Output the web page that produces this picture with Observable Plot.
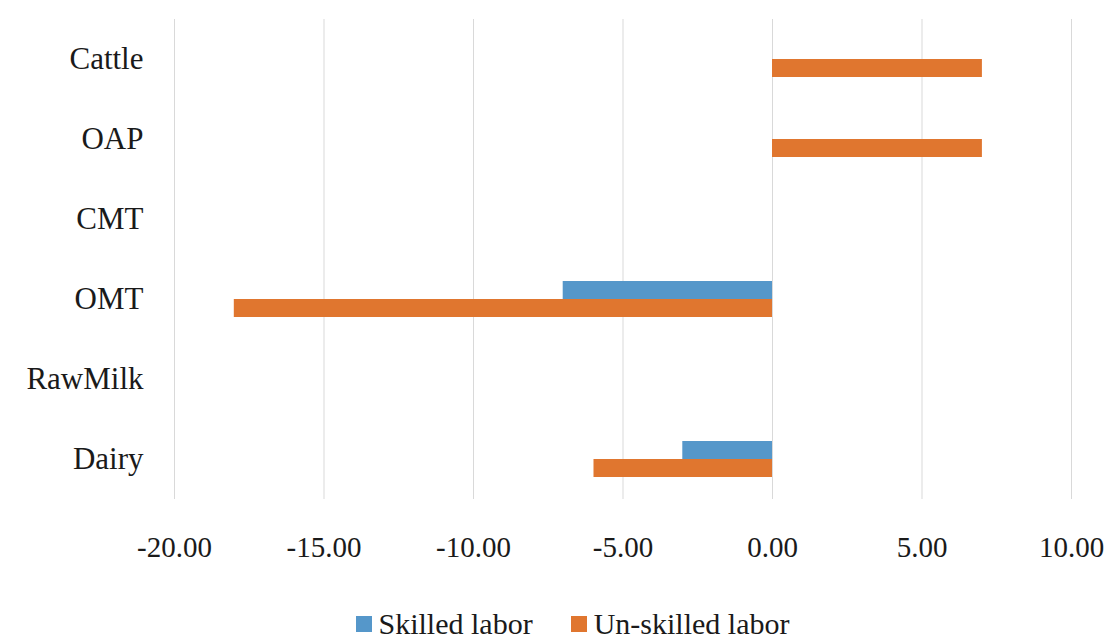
<!DOCTYPE html>
<html>
<head>
<meta charset="utf-8">
<script src="https://cdn.jsdelivr.net/npm/d3@7"></script>
<script src="https://cdn.jsdelivr.net/npm/@observablehq/plot@0.6"></script>
<style>
  html, body { margin: 0; padding: 0; background: #fff; }
  #chart svg { display: block; }
  #chart svg, #chart svg text { font-family: "Liberation Serif", Times, "DejaVu Serif", serif !important; }
  .legend { display: flex; justify-content: center; align-items: center; padding-left: 34px;
    font-family: "Liberation Serif", Times, "DejaVu Serif", serif; font-size: 30px; color: #1a1a1a; height: 34px; line-height: 34px; }
  .legend .item { display: flex; align-items: center; margin: 0 19px; }
  .legend .sw { width: 16px; height: 16px; margin-right: 7px; display: inline-block; }
</style>
</head>
<body>
<div id="chart"></div>
<div class="legend" id="legend"></div>
<script>
const categories = ["Cattle", "OAP", "CMT", "OMT", "RawMilk", "Dairy"];
const series = ["Skilled labor", "Un-skilled labor"];
const skilled = [0, 0, 0, -7, 0, -3];
const unskilled = [7.02, 7.02, 0, -18, 0, -5.97];
const xTicks = [-20, -15, -10, -5, 0, 5, 10];
const colors = ["#5597ca", "#e0762f"];

const data = categories.flatMap((c, i) => [
  {category: c, series: series[0], value: skilled[i]},
  {category: c, series: series[1], value: unskilled[i]}
]);

const fmt = d => d.toFixed(2);

const chart = Plot.plot({
  width: 1111,
  height: 607,
  marginTop: 18,
  marginBottom: 107,
  marginLeft: 174,
  marginRight: 40,
  style: {fontFamily: "'Liberation Serif', Times, 'DejaVu Serif', serif", color: "#1a1a1a", background: "#fff"},
  x: {domain: [-20, 10], ticks: xTicks, label: null},
  y: {domain: series, axis: null, paddingInner: 0, paddingOuter: 1.12},
  fy: {domain: categories, padding: 0, label: null},
  color: {domain: series, range: colors},
  marks: [
    Plot.gridX(xTicks, {stroke: "#d9d9d9", strokeOpacity: 1, strokeWidth: 1}),
    Plot.barX(data, {x: "value", y: "series", fy: "category", fill: "series"}),
    Plot.axisX({ticks: xTicks, tickFormat: fmt, tickSize: 0, tickPadding: 37, fontSize: 29, label: null}),
    Plot.axisFy({anchor: "left", tickSize: 0, tickPadding: 31, fontSize: 31, label: null})
  ]
});
document.getElementById("chart").appendChild(chart);

const legend = document.getElementById("legend");
series.forEach((s, i) => {
  const item = document.createElement("span");
  item.className = "item";
  const sw = document.createElement("span");
  sw.className = "sw";
  sw.style.background = colors[i];
  item.appendChild(sw);
  item.appendChild(document.createTextNode(s));
  legend.appendChild(item);
});
</script>
</body>
</html>
